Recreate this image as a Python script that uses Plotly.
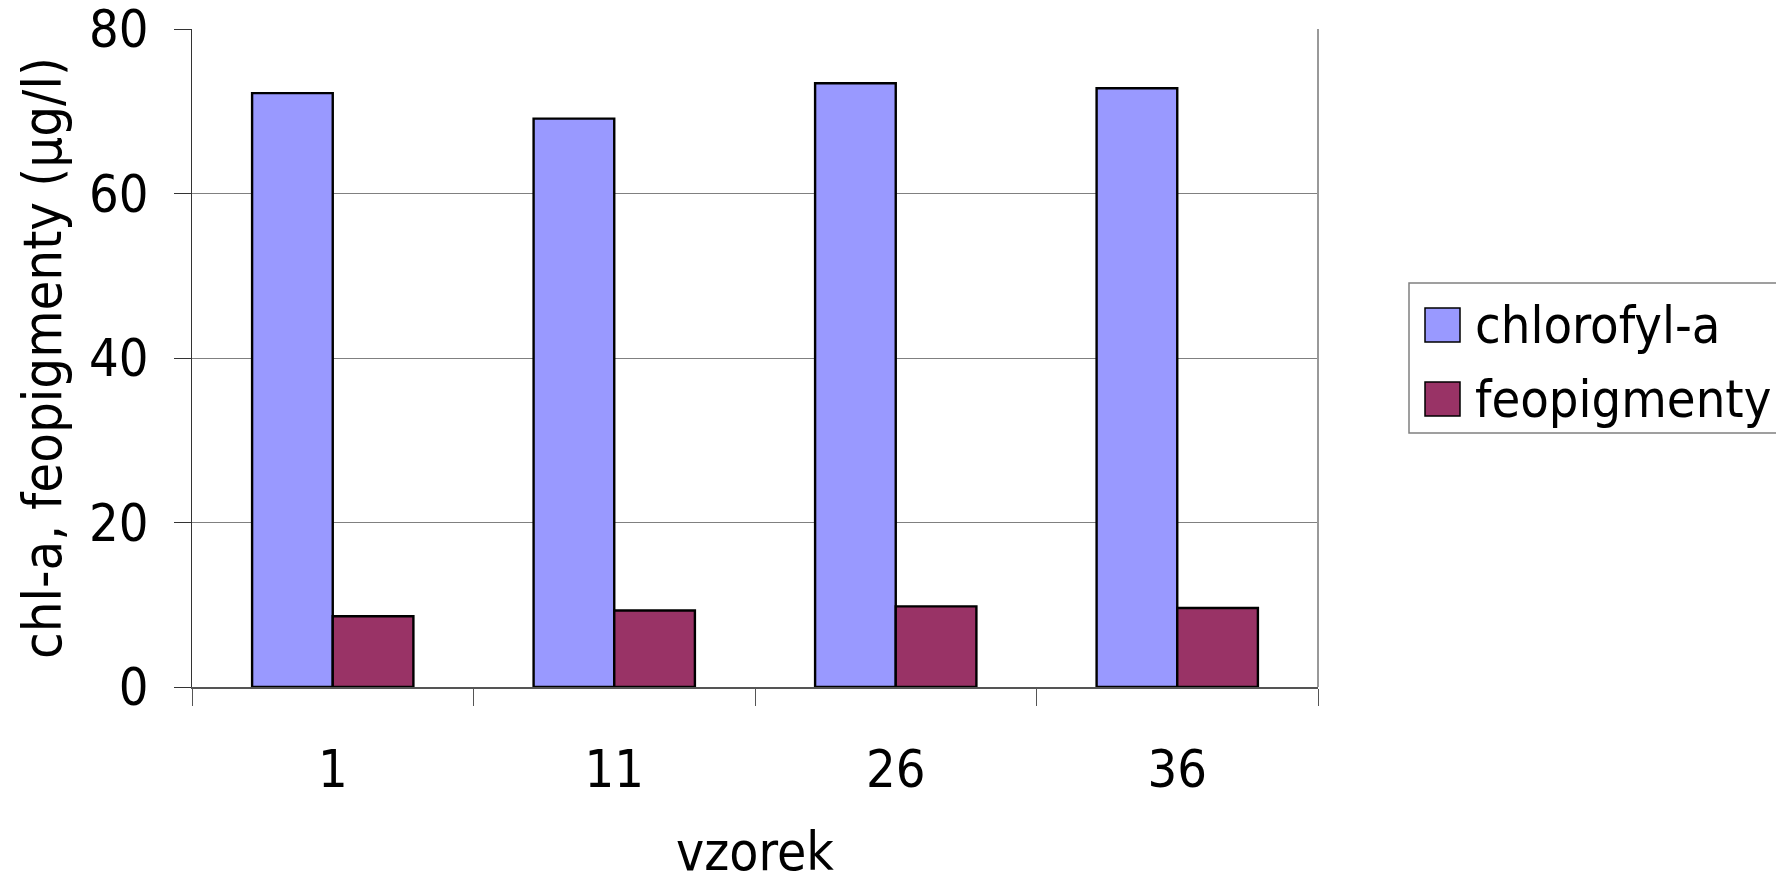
import plotly.graph_objects as go

categories = ["1", "11", "26", "36"]
chlorofyl_a = [72.2, 69.1, 73.4, 72.8]
feopigmenty = [8.6, 9.3, 9.8, 9.6]
series_names = ["chlorofyl-a", "feopigmenty"]
colors = ["#9999FF", "#993366"]
y_ticks = [0, 20, 40, 60, 80]

FONT = "DejaVu Sans Condensed, DejaVu Sans, Verdana, sans-serif"

fig = go.Figure()
for name, vals, col in zip(series_names, [chlorofyl_a, feopigmenty], colors):
    fig.add_trace(go.Bar(
        x=categories, y=vals, name=name,
        marker=dict(color=col, line=dict(color="black", width=2.4)),
        showlegend=False,
    ))

W, H = 1776, 882
ml, mr, mt, mb = 192, 458, 29, 195
pw, ph = W - ml - mr, H - mt - mb

def px_to_paper_x(px):
    return (px - ml) / pw

def px_to_paper_y(py):
    return (H - mb - py) / ph

shapes = []
annotations = []
# right border of plot area
shapes.append(dict(type="line", xref="paper", yref="paper", x0=1, x1=1, y0=0, y1=1,
                   line=dict(color="#999999", width=2)))
# legend box
shapes.append(dict(type="rect", xref="paper", yref="paper",
                   x0=px_to_paper_x(1409), x1=px_to_paper_x(1790),
                   y0=px_to_paper_y(433), y1=px_to_paper_y(283),
                   line=dict(color="#808080", width=1.5), fillcolor="white", layer="below"))
for i, (name, col) in enumerate(zip(series_names, colors)):
    cy = 325 + i * 74
    shapes.append(dict(type="rect", xref="paper", yref="paper",
                       x0=px_to_paper_x(1425), x1=px_to_paper_x(1460),
                       y0=px_to_paper_y(cy + 17), y1=px_to_paper_y(cy - 17),
                       line=dict(color="black", width=1.5), fillcolor=col))
    annotations.append(dict(xref="paper", yref="paper", x=px_to_paper_x(1473), y=px_to_paper_y(cy),
                            text=name, showarrow=False, xanchor="left", yanchor="middle",
                            font=dict(family=FONT, size=52, color="black")))

fig.update_layout(
    width=W, height=H,
    margin=dict(l=ml, r=mr, t=mt, b=mb, pad=0, autoexpand=False),
    paper_bgcolor="white", plot_bgcolor="white",
    barmode="group", bargap=0.427, bargroupgap=0,
    font=dict(family=FONT, size=52, color="black"),
    shapes=shapes, annotations=annotations,
    xaxis=dict(
        type="category", automargin=False, ticklabeloverflow="allow",
        showline=True, linecolor="#555555", linewidth=2,
        ticks="outside", tickson="boundaries", ticklen=17, tickcolor="#555555", tickwidth=1,
        ticklabelstandoff=36,
        tickfont=dict(family=FONT, size=52, color="black"),
        title=dict(text="vzorek", font=dict(family=FONT, size=53, color="black"), standoff=58),
        showgrid=False,
    ),
    yaxis=dict(
        range=[0, 80], tickvals=y_ticks, automargin=False, ticklabeloverflow="allow",
        showline=True, linecolor="#333333", linewidth=1,
        ticks="outside", ticklen=17, tickcolor="#333333", tickwidth=1,
        ticklabelstandoff=15,
        tickfont=dict(family=FONT, size=52, color="black"),
        showgrid=True, gridcolor="#808080", gridwidth=1,
        zeroline=False,
        title=dict(text="chl-a, feopigmenty (µg/l)", font=dict(family=FONT, size=54, color="black"), standoff=10),
    ),
)

fig.write_html("out.html", config={"displayModeBar": False},
               post_script="document.body.style.margin='0px';")
